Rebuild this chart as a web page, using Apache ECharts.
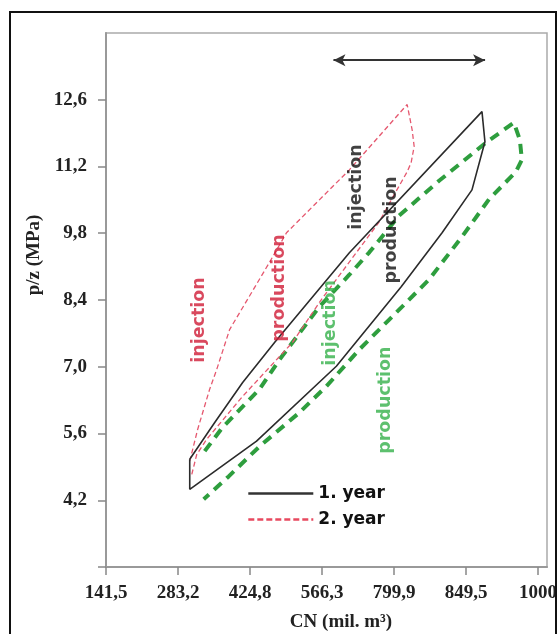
<!DOCTYPE html>
<html>
<head>
<meta charset="utf-8">
<script src="https://cdn.jsdelivr.net/npm/echarts@6/dist/echarts.min.js"></script>
<style>
html,body{margin:0;padding:0;background:#fff;}
#chart{width:560px;height:634px;}
</style>
</head>
<body>
<div id="chart"></div>
<script>
// x axis: evenly spaced tick positions with their printed labels
const xPositions = [0, 1, 2, 3, 4, 5, 6];
const xTickLabels = ['141,5', '283,2', '424,8', '566,3', '799,9', '849,5', '1000'];
const yTickValues = [4.2, 5.6, 7.0, 8.4, 9.8, 11.2, 12.6];
const yTickLabels = ['4,2', '5,6', '7,0', '8,4', '9,8', '11,2', '12,6'];

// 1. year (black solid loop)
const year1X = [1.163, 1.510, 1.898, 2.341, 3.380, 5.222, 5.263, 5.083, 4.668, 4.100, 3.199, 2.091, 1.163, 1.163];
const year1Y = [5.06, 5.83, 6.67, 7.51, 9.39, 12.35, 11.72, 10.71, 9.81, 8.68, 7.01, 5.44, 4.43, 5.06];

// 2. year (red dashed loop)
const year2X = [1.163, 1.274, 1.440, 1.537, 1.717, 2.271, 2.507, 3.102, 3.380, 4.183, 4.252, 4.280, 4.238, 4.183, 4.003, 3.795, 2.992, 2.590, 1.898, 1.399, 1.260, 1.191];
const year2Y = [5.02, 5.69, 6.53, 6.94, 7.78, 9.19, 9.81, 10.71, 11.13, 12.50, 11.97, 11.62, 11.28, 11.09, 10.61, 10.04, 8.41, 7.51, 6.38, 5.48, 5.16, 4.74];

// third cycle (green thick dashed loop)
const year3X = [1.371, 1.620, 2.133, 2.410, 2.964, 3.380, 3.657, 4.072, 4.626, 5.277, 5.665, 5.748, 5.776, 5.693, 5.319, 4.945, 4.488, 3.934, 3.518, 3.061, 2.687, 2.133, 1.704, 1.357];
const year3Y = [5.23, 5.73, 6.53, 7.15, 8.26, 8.93, 9.40, 10.17, 10.90, 11.70, 12.12, 11.76, 11.34, 11.09, 10.51, 9.73, 8.83, 7.99, 7.36, 6.59, 6.04, 5.33, 4.70, 4.22];

// annotation texts (rotated), placed in data coordinates
const annTexts = ['injection', 'production', 'injection', 'production', 'injection', 'production'];
const annX = [1.302, 2.411, 3.478, 3.963, 3.118, 3.880];
const annY = [7.98, 8.65, 10.77, 9.87, 7.92, 6.30];
const annColors = ['#d01c36', '#d01c36', '#111111', '#111111', '#34b04a', '#34b04a'];

// double-headed arrow
const arrowX = [3.159, 5.265];
const arrowY = 13.43;

const zip = (xs, ys) => xs.map((x, i) => [x, ys[i]]);

const chart = echarts.init(document.getElementById('chart'), null, {renderer: 'canvas'});

const serif = 'Liberation Serif';
const sans = 'DejaVu Sans';

chart.setOption({
  animation: false,
  backgroundColor: '#ffffff',
  grid: {
    left: 106, right: 12, top: 33, bottom: 67,
    show: true, borderColor: '#aaaaaa', borderWidth: 1.5, backgroundColor: 'transparent'
  },
  graphic: [
    {type: 'rect', shape: {x: 10, y: 12, width: 546, height: 640}, style: {fill: 'none', stroke: '#111', lineWidth: 2}, silent: true, z: 100},
    {type: 'text', x: 34, y: 255, rotation: Math.PI / 2, style: {text: 'p/z (MPa)', font: 'bold 19px "Liberation Serif"', fill: '#222', align: 'center', verticalAlign: 'middle'}, silent: true},
    {type: 'text', x: 341, y: 622, style: {text: 'CN (mil. m³)', font: 'bold 19px "Liberation Serif"', fill: '#222', align: 'center', verticalAlign: 'middle'}, silent: true}
  ],
  legend: {
    orient: 'vertical',
    left: 242, top: 480,
    itemWidth: 65, itemHeight: 14, itemGap: 9,
    itemStyle: {opacity: 0},
    textStyle: {fontFamily: sans, fontWeight: 'bold', fontSize: 17, color: '#111'},
    data: [
      {name: '1. year', lineStyle: {width: 2.6, color: '#333', opacity: 1}},
      {name: '2. year', lineStyle: {width: 2.6, color: '#e8495f', type: [6, 3], opacity: 1}}
    ],
    selectedMode: false
  },
  xAxis: {
    type: 'value', min: 0, max: 6.125, interval: 1,
    axisLine: {show: true, onZero: false, lineStyle: {color: '#999', width: 2}},
    axisTick: {show: true, length: 8, lineStyle: {color: '#888', width: 1.5}, customValues: xPositions},
    axisLabel: {
      margin: 17, color: '#222', fontFamily: serif, fontWeight: 'bold', fontSize: 19,
      customValues: xPositions,
      formatter: v => { const i = xPositions.indexOf(Math.round(v)); return Math.abs(v - Math.round(v)) < 1e-6 && i >= 0 ? xTickLabels[i] : ''; }
    },
    splitLine: {show: false}
  },
  yAxis: {
    type: 'value', min: 2.8, max: 14.0, interval: 1.4,
    axisLine: {show: true, onZero: false, lineStyle: {color: '#999', width: 2}},
    axisTick: {show: true, length: 8, lineStyle: {color: '#888', width: 1.5}, customValues: [2.8].concat(yTickValues)},
    axisLabel: {
      margin: 19, color: '#222', fontFamily: serif, fontWeight: 'bold', fontSize: 19,
      customValues: yTickValues,
      formatter: v => { const i = yTickValues.findIndex(t => Math.abs(t - v) < 1e-6); return i >= 0 ? yTickLabels[i] : ''; }
    },
    splitLine: {show: false}
  },
  series: [
    {
      name: '3. cycle', type: 'line', data: zip(year3X, year3Y), symbol: 'none', smooth: false,
      lineStyle: {color: '#2e9e3e', width: 4, type: [10, 7]}, silent: true, z: 2
    },
    {
      name: '2. year', type: 'line', data: zip(year2X, year2Y), symbol: 'none', smooth: false,
      lineStyle: {color: '#e5586f', width: 1.3, type: [5, 3]}, itemStyle: {color: '#e8495f'}, silent: true, z: 3
    },
    {
      name: '1. year', type: 'line', data: zip(year1X, year1Y), symbol: 'none', smooth: false,
      lineStyle: {color: '#2b2b2b', width: 1.6}, itemStyle: {color: '#333'}, silent: true, z: 4,
      markLine: {
        silent: true, symbol: ['arrow', 'arrow'], symbolSize: [9, 12],
        lineStyle: {color: '#333', width: 2, type: 'solid'},
        label: {show: false},
        data: [[{coord: [arrowX[0], arrowY]}, {coord: [arrowX[1], arrowY]}]]
      }
    },
    {
      name: 'labels', type: 'scatter', symbolSize: 1, silent: true, z: 5,
      itemStyle: {color: 'rgba(0,0,0,0)'},
      data: annTexts.map((t, i) => ({
        name: t, value: [annX[i], annY[i]],
        label: {color: annColors[i]}
      })),
      label: {
        show: true, position: 'inside', rotate: 90, formatter: p => p.name,
        fontFamily: sans, fontWeight: 'bold', fontSize: 17.5, align: 'center', verticalAlign: 'middle'
      },
      emphasis: {disabled: true}
    }
  ]
});
</script>
</body>
</html>
